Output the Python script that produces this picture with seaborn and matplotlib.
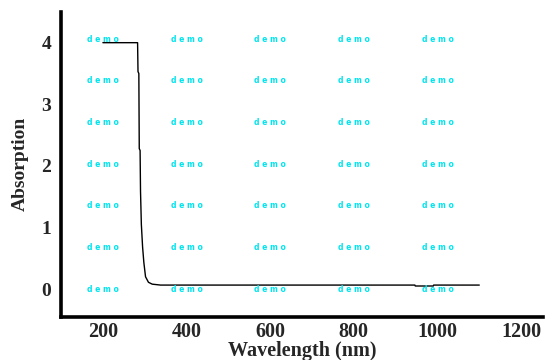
import matplotlib
matplotlib.use("Agg")
import matplotlib.pyplot as plt
import seaborn as sns
import pandas as pd

wavelength = [200, 283, 284, 286, 287, 289, 290, 292, 295, 298, 302, 309, 318, 338,
              600, 946, 947, 990, 991, 1100]
absorption = [4.0, 4.0, 3.53, 3.5, 2.28, 2.25, 1.59, 1.05, 0.68, 0.43, 0.2, 0.11, 0.08, 0.065,
              0.065, 0.065, 0.05, 0.05, 0.065, 0.065]

x_ticks = [200, 400, 600, 800, 1000, 1200]
y_ticks = [0, 1, 2, 3, 4]
wm_x = [200, 400, 600, 800, 1000]
wm_y = [0.0, 0.68, 1.35, 2.03, 2.7, 3.38, 4.05]

sns.set_theme(style="white")
plt.rcParams['font.family'] = ['Liberation Serif', 'DejaVu Serif']
plt.rcParams['font.weight'] = 'bold'

df = pd.DataFrame({"Wavelength": wavelength, "Absorption": absorption})

fig = plt.figure(figsize=(5.5, 3.6), dpi=100)
ax = fig.add_axes([0.111, 0.12, 0.876, 0.847])
sns.lineplot(data=df, x="Wavelength", y="Absorption", ax=ax, color="black",
             linewidth=1.0, estimator=None, sort=False)

for xv in wm_x:
    for yv in wm_y:
        ax.text(xv, yv, "d e m o", color="#00E5EE", fontsize=5.5, fontweight="bold",
                ha="center", va="center", family="DejaVu Sans")

ax.set_xlim(100, 1252)
ax.set_ylim(-0.45, 4.5)
ax.set_xticks(x_ticks)
ax.set_yticks(y_ticks)
ax.set_xticklabels([str(v) for v in x_ticks], fontsize=14.5, fontweight="bold")
ax.set_yticklabels([str(v) for v in y_ticks], fontsize=14, fontweight="bold")
ax.tick_params(axis="x", length=0, pad=4)
ax.tick_params(axis="y", length=0, pad=7)
ax.set_xlabel("Wavelength (nm)", fontsize=14.5, fontweight="bold", labelpad=-1)
ax.set_ylabel("Absorption", fontsize=14, fontweight="bold", labelpad=9)
ax.grid(False)
for s in ["top", "right"]:
    ax.spines[s].set_visible(False)
for s in ["left", "bottom"]:
    ax.spines[s].set_color("black")
    ax.spines[s].set_linewidth(2.6)

fig.savefig("out.png", dpi=100)
